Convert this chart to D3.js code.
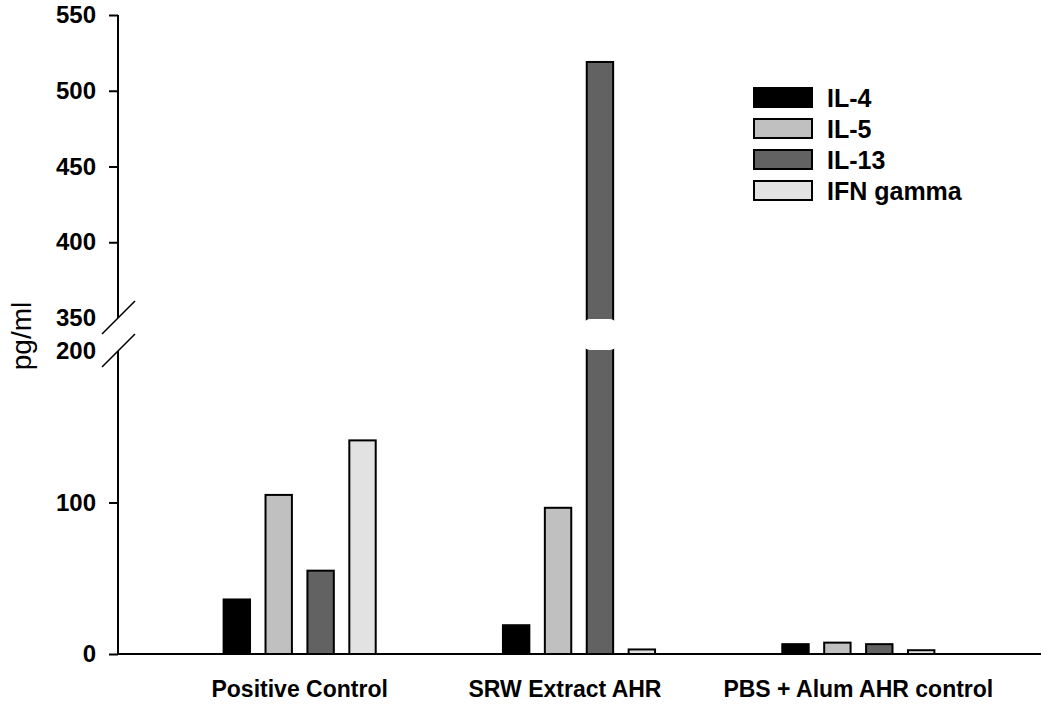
<!DOCTYPE html>
<html>
<head>
<meta charset="utf-8">
<script src="https://cdn.jsdelivr.net/npm/d3@7"></script>
<style>
  body { margin: 0; background: #fff; }
  text { font-family: "Liberation Sans", Arial, sans-serif; }
</style>
</head>
<body>
<div id="chart"></div>
<script>
// data
const groups = ["Positive Control", "SRW Extract AHR", "PBS + Alum AHR control"];
const series = ["IL-4", "IL-5", "IL-13", "IFN gamma"];
const il4 = [36, 19, 6.5];
const il5 = [105, 96.5, 7.5];
const il13 = [55, 519, 6.5];
const ifn = [141, 3, 2.5];
const lowerTicks = [0, 100, 200];
const upperTicks = [350, 400, 450, 500, 550];

const colors = ["#000000", "#c0c0c0", "#626262", "#e2e2e2"];
const values = [il4, il5, il13, ifn];

const width = 1050, height = 706;
const axisX = 118, xEnd = 1041;
const breakLow = 200, breakHigh = 350;

const svg = d3.select("#chart").append("svg")
    .attr("width", width)
    .attr("height", height);

// broken y axis: two linear pieces
const yLow = d3.scaleLinear().domain([0, breakLow]).range([654, 351]);
const yUp = d3.scaleLinear().domain([breakHigh, 550]).range([318, 15]);
const y = v => v <= breakLow ? yLow(v) : yUp(v);

const x0 = d3.scaleBand().domain(groups).range([160, 998])
    .paddingInner(0.4).paddingOuter(0.2);
const x1 = d3.scaleBand().domain(series).range([0, x0.bandwidth()])
    .paddingInner(0.37).paddingOuter(0.185);

// bars
const rows = [];
groups.forEach((g, i) => {
    series.forEach((s, j) => rows.push({ group: g, key: s, value: values[j][i], color: colors[j] }));
});

svg.append("g").selectAll("rect")
    .data(rows)
    .join("rect")
    .attr("x", d => x0(d.group) + x1(d.key))
    .attr("y", d => y(d.value))
    .attr("width", x1.bandwidth())
    .attr("height", d => yLow(0) - y(d.value))
    .attr("fill", d => d.color)
    .attr("stroke", "#000")
    .attr("stroke-width", 2);

// gap through bars that cross the break
svg.append("g").selectAll("rect")
    .data(rows.filter(d => d.value > breakLow))
    .join("rect")
    .attr("x", d => x0(d.group) + x1(d.key) - 3)
    .attr("y", yUp(breakHigh) + 1)
    .attr("width", x1.bandwidth() + 6)
    .attr("height", yLow(breakLow) - yUp(breakHigh) - 2)
    .attr("rx", 6)
    .attr("fill", "#fff");

// y axes
const fontTick = "24px";
function styleAxis(g) {
    g.select(".domain").remove();
    g.selectAll(".tick line").attr("stroke", "#000").attr("stroke-width", 2)
        .attr("opacity", d => (d === breakLow || d === breakHigh) ? 0 : 1);
    g.selectAll(".tick text").attr("fill", "#000")
        .style("font-size", fontTick).style("font-weight", "bold")
        .style("font-family", '"Liberation Sans", Arial, sans-serif');
}

svg.append("g").attr("transform", `translate(${axisX},0)`)
    .call(d3.axisLeft(yUp).tickValues(upperTicks).tickSize(9).tickPadding(13))
    .call(styleAxis);
svg.append("g").attr("transform", `translate(${axisX},0)`)
    .call(d3.axisLeft(yLow).tickValues(lowerTicks).tickSize(9).tickPadding(13))
    .call(styleAxis);

// axis lines with break marks
svg.append("line").attr("x1", axisX).attr("x2", axisX)
    .attr("y1", yUp(550)).attr("y2", yUp(breakHigh))
    .attr("stroke", "#000").attr("stroke-width", 2);
svg.append("line").attr("x1", axisX).attr("x2", axisX)
    .attr("y1", yLow(breakLow)).attr("y2", yLow(0))
    .attr("stroke", "#000").attr("stroke-width", 2);
[yUp(breakHigh), yLow(breakLow)].forEach(cy => {
    svg.append("line")
        .attr("x1", axisX - 16).attr("y1", cy + 16)
        .attr("x2", axisX + 17).attr("y2", cy - 17)
        .attr("stroke", "#000").attr("stroke-width", 1.6);
});

// x axis
svg.append("line").attr("x1", axisX).attr("x2", xEnd)
    .attr("y1", yLow(0)).attr("y2", yLow(0))
    .attr("stroke", "#000").attr("stroke-width", 2);

const labelShift = { "SRW Extract AHR": -14 };
svg.append("g").selectAll("text")
    .data(groups)
    .join("text")
    .attr("x", d => x0(d) + x0.bandwidth() / 2 + (labelShift[d] || 0))
    .attr("y", 697)
    .attr("text-anchor", "middle")
    .style("font-size", "23px")
    .style("font-weight", "bold")
    .text(d => d);

// y title
svg.append("text")
    .attr("transform", "translate(31,336) rotate(-90)")
    .attr("text-anchor", "middle")
    .style("font-size", "28px")
    .text("pg/ml");

// legend
const legend = svg.append("g").attr("transform", "translate(754,88)");
const item = legend.selectAll("g")
    .data(series)
    .join("g")
    .attr("transform", (d, i) => `translate(0,${i * 31})`);
item.append("rect")
    .attr("width", 58).attr("height", 19)
    .attr("fill", (d, i) => colors[i])
    .attr("stroke", "#000").attr("stroke-width", 2);
item.append("text")
    .attr("x", 73).attr("y", 10).attr("dy", "0.35em")
    .style("font-size", "25px")
    .style("font-weight", "bold")
    .text(d => d);
</script>
</body>
</html>
